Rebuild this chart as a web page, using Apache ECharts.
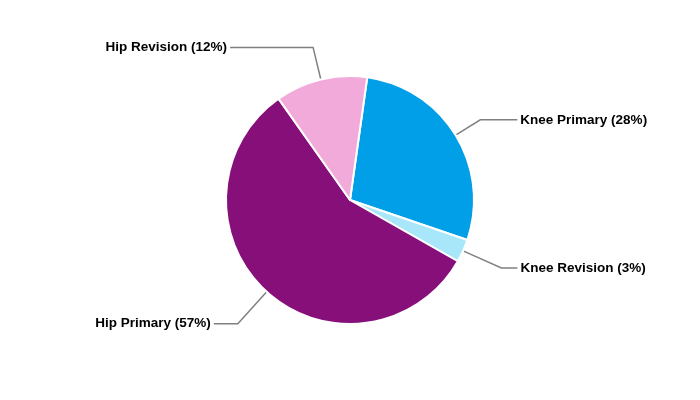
<!DOCTYPE html>
<html>
<head>
<meta charset="utf-8">
<script src="https://cdn.jsdelivr.net/npm/echarts@6/dist/echarts.min.js"></script>
<style>
  html, body { margin: 0; padding: 0; background: #fff; }
  #main { width: 700px; height: 400px; }
</style>
</head>
<body>
<div id="main"></div>
<script>
// data
var categories = ['Knee Primary', 'Knee Revision', 'Hip Primary', 'Hip Revision'];
var values = [28, 3, 57, 12];
var colors = ['#009FE8', '#A8E6FA', '#870F7A', '#F1AADA'];
// leader line lengths per slice [length, length2]
var lineLens = [[29, 37], [42, 16], [43, 24], [33, 83]];

var chartDom = document.getElementById('main');
var myChart = echarts.init(chartDom);

var data = categories.map(function (name, i) {
  return {
    name: name,
    value: values[i],
    itemStyle: { color: colors[i] },
    labelLine: { length: lineLens[i][0], length2: lineLens[i][1] }
  };
});

var option = {
  animation: false,
  series: [
    {
      type: 'pie',
      center: [350, 200],
      radius: 124,
      startAngle: 82,
      clockwise: true,
      avoidLabelOverlap: false,
      itemStyle: { borderColor: '#fff', borderWidth: 2 },
      label: {
        show: true,
        formatter: '{b} ({d}%)',
        color: '#000',
        fontFamily: 'Liberation Sans, Arial, sans-serif',
        fontWeight: 'bold',
        fontSize: 13.5,
        distanceToLabelLine: 3
      },
      labelLine: {
        show: true,
        lineStyle: { color: '#808080', width: 1.5 }
      },
      emphasis: { disabled: true },
      data: data
    }
  ]
};
myChart.setOption(option);
</script>
</body>
</html>
